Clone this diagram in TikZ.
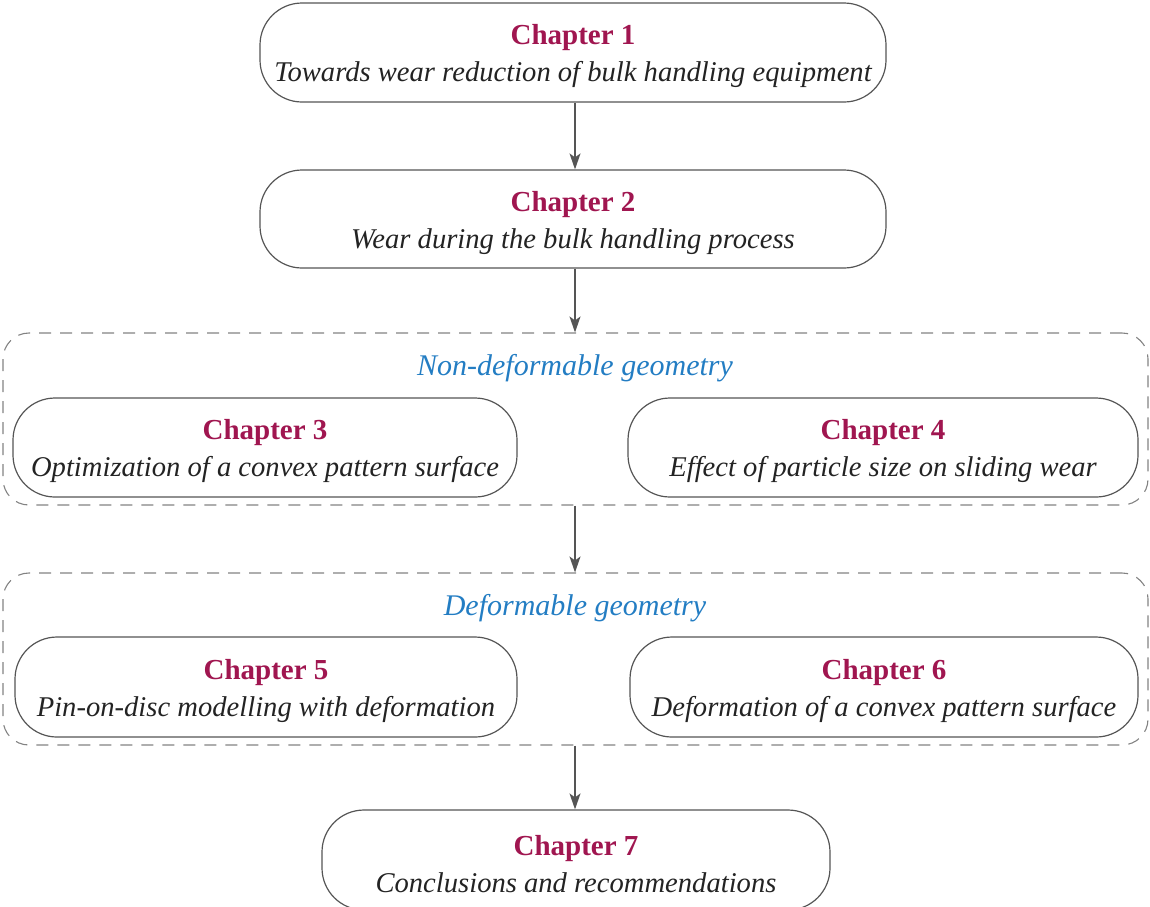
\documentclass[tikz,border=0pt]{standalone}
\usepackage{fontspec}
\setmainfont{Liberation Serif}
\usetikzlibrary{arrows.meta,positioning}
\definecolor{chapcol}{RGB}{160,22,80}
\definecolor{geomcol}{RGB}{35,125,195}
\definecolor{linecol}{RGB}{85,85,85}
\definecolor{dashcol}{RGB}{130,130,130}
\definecolor{txtcol}{RGB}{35,35,35}
\tikzset{
  chapbox/.style={draw=linecol, line width=1.2pt, rounded corners=42pt, align=center,
    inner sep=0pt, font=\fontsize{29}{37}\selectfont, text=txtcol},
  groupbox/.style={draw=dashcol, line width=1.1pt, dash pattern=on 12pt off 9pt, rounded corners=26pt},
  grouplabel/.style={font=\fontsize{30}{35}\selectfont\itshape, text=geomcol, inner sep=0pt},
  flow/.style={draw=linecol, line width=1.5pt, -{Stealth[length=16pt,width=11pt,inset=4pt]}}
}
\newcommand{\chapt}[2]{\rule{0pt}{28pt}{\bfseries\color{chapcol}Chapter #1}\\{\fontsize{28.6}{37}\selectfont\itshape #2}}
\begin{document}
\begin{tikzpicture}[x=1pt,y=-1pt]
\useasboundingbox (0,0) rectangle (1150,906);
% groups
\node[groupbox, minimum width=1145pt, minimum height=172pt] (g1) at (575.5,419) {};
\node[groupbox, minimum width=1145pt, minimum height=172pt] (g2) at (575.5,659) {};
\node[grouplabel] (l1) at (575,368) {Non-deformable geometry};
\node[grouplabel] (l2) at (575,608) {Deformable geometry};
% chapters
\node[chapbox, minimum width=626pt, minimum height=99pt] (c1) at (573,52.5) {\chapt{1}{Towards wear reduction of bulk handling equipment}};
\node[chapbox, minimum width=626pt, minimum height=98pt] (c2) at (573,219) {\chapt{2}{Wear during the bulk handling process}};
\node[chapbox, minimum width=504pt, minimum height=99pt] (c3) at (265,447.5) {\chapt{3}{Optimization of a convex pattern surface}};
\node[chapbox, minimum width=510pt, minimum height=99pt] (c4) at (883,447.5) {\chapt{4}{Effect of particle size on sliding wear}};
\node[chapbox, minimum width=502pt, minimum height=100pt] (c5) at (266,687) {\chapt{5}{Pin-on-disc modelling with deformation}};
\node[chapbox, minimum width=508pt, minimum height=100pt] (c6) at (884,687) {\chapt{6}{Deformation of a convex pattern surface}};
\node[chapbox, minimum width=508pt, minimum height=100pt] (c7) at (576,860) {\chapt{7}{Conclusions and recommendations}};
% arrows
\draw[flow] (c1.south -| 575,0) -- (c2.north -| 575,0);
\draw[flow] (c2.south -| 575,0) -- (g1.north -| 575,0);
\draw[flow] (g1.south -| 575,0) -- (g2.north -| 575,0);
\draw[flow] (g2.south -| 575,0) -- (c7.north -| 575,0);
\end{tikzpicture}
\end{document}
